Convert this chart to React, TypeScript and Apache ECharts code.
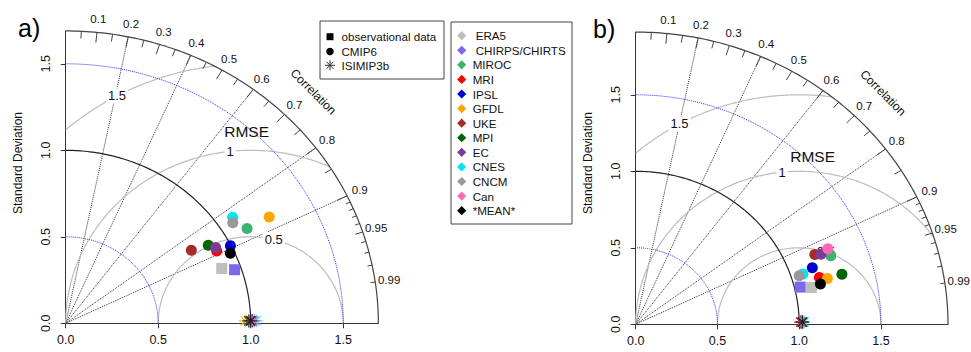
import React, { useEffect, useRef } from "react";
import * as echarts from "echarts";

const FONT = "'Liberation Sans', Arial, sans-serif";

// ---------- data ----------
const models = ["ERA5", "CHIRPS/CHIRTS", "MIROC", "MRI", "IPSL", "GFDL", "UKE", "MPI", "EC", "CNES", "CNCM", "Can", "*MEAN*"];
const modelColors = ["#BEBEBE", "#7B68EE", "#3CB371", "#FF0000", "#0000CD", "#FFA500", "#A52A2A", "#006400", "#7D3B95", "#00E5EE", "#999999", "#FF69B4", "#000000"];
const modelKinds = ["obs", "obs", "cmip", "cmip", "cmip", "cmip", "cmip", "cmip", "cmip", "cmip", "cmip", "cmip", "cmip"];

// panel a) standard deviation (normalised) and correlation
const sdA = [0.901, 0.964, 1.123, 0.917, 0.997, 1.26, 0.8, 0.893, 0.921, 1.091, 1.074, null, 0.978];
const corA = [0.936, 0.947, 0.873, 0.89, 0.893, 0.873, 0.849, 0.863, 0.88, 0.827, 0.841, null, 0.91];
// panel b)
const sdB = [1.101, 1.035, 1.275, 1.164, 1.142, 1.21, 1.187, 1.303, 1.222, 1.074, 1.049, 1.275, 1.16];
const corB = [0.976, 0.972, 0.936, 0.965, 0.946, 0.969, 0.923, 0.968, 0.927, 0.952, 0.953, 0.922, 0.974];

// ISIMIP3b (bias adjusted) – one asterisk per model, close to the reference point
const isiModels = ["MIROC", "MRI", "IPSL", "GFDL", "UKE", "MPI", "EC", "CNES", "CNCM", "Can", "*MEAN*"];
const isiSdA = [1.0, 0.99, 1.01, 0.97, 1.0, 0.99, 1.01, 1.03, 1.0, 1.02, 1.0];
const isiCorA = [0.9999, 0.9999, 0.9999, 0.9999, 0.9999, 0.9999, 0.9999, 0.9999, 0.9999, 0.9999, 0.9999];
const isiSdB = [1.02, 1.01, 1.02, 1.02, 1.01, 1.02, 1.02, 1.03, 1.02, 1.02, 1.02];
const isiCorB = [0.9999, 0.9999, 0.9999, 0.9999, 0.9999, 0.9999, 0.9999, 0.9999, 0.9999, 0.9999, 0.9999];

// axes / reference values
const sdTicks = [0, 0.5, 1, 1.5];
const sdMaxA = 1.69;
const sdMaxB = 1.91;
const refSd = 1;
const sdCircles = [0.5, 1.5];
const rmseLevels = [0.5, 1, 1.5];
const rmseLabels = ["0.5", "1", "1.5"];
const corrLabels = [0.1, 0.2, 0.3, 0.4, 0.5, 0.6, 0.7, 0.8, 0.9, 0.95, 0.99];
const corrLines = [0.2, 0.4, 0.6, 0.8, 0.9];
const bigTicks = [0.1, 0.2, 0.3, 0.4, 0.5, 0.6, 0.7, 0.8, 0.9];
const medTicks = [0.05, 0.15, 0.25, 0.35, 0.45, 0.55, 0.65, 0.75, 0.85, 0.95];
const smallTicks = [0.91, 0.92, 0.93, 0.94, 0.96, 0.97, 0.98, 0.99];
const legendTypes = ["observational data", "CMIP6", "ISIMIP3b"];

// ---------- layout ----------
const panels = [
  { tag: "a)", origin: [65.7, 323.3], scale: [185, 173], max: sdMaxA, sd: sdA, cor: corA, isiSd: isiSdA, isiCor: isiCorA, rmseDeg: [75.6, 96.4, 118.8], rmseTitle: [0.978, 1.108], tagPos: [18, 28], ylab: [18, 163] },
  { tag: "b)", origin: [635.7, 324.3], scale: [163.5, 153], max: sdMaxB, sd: sdB, cor: corB, isiSd: isiSdB, isiCor: isiCorB, rmseDeg: [71, 96, 119.2], rmseTitle: [1.082, 1.1], tagPos: [593, 29], ylab: [588, 163] },
];

const polar = (sd: number, r: number): [number, number] => [sd * r, sd * Math.sqrt(Math.max(0, 1 - r * r))];

const arcPts = (cx: number, cy: number, rad: number, a0: number, a1: number, n = 120) => {
  const out: number[][] = [];
  for (let i = 0; i <= n; i++) {
    const a = a0 + ((a1 - a0) * i) / n;
    out.push([cx + rad * Math.cos(a), cy + rad * Math.sin(a)]);
  }
  return out;
};

const rmseArc = (rho: number, max: number) => {
  const c1 = (max * max - refSd * refSd - rho * rho) / (2 * rho * refSd);
  const t0 = c1 >= 1 ? 0 : Math.acos(Math.max(-1, c1));
  const t1 = rho <= refSd ? Math.PI : Math.acos(-refSd / rho);
  return arcPts(refSd, 0, rho, t0, t1, 160);
};

const STAR = "path://M0,5L10,5M5,0L5,10M1.46,1.46L8.54,8.54M1.46,8.54L8.54,1.46";
const TXT = "#111";

function buildOption() {
  const grid: any[] = [];
  const xAxis: any[] = [];
  const yAxis: any[] = [];
  const series: any[] = [];
  const graphic: any[] = [];

  panels.forEach((p, i) => {
    const [ox, oy] = p.origin;
    const [sx, sy] = p.scale;
    grid.push({ left: ox, top: oy - p.max * sy, width: p.max * sx, height: p.max * sy, containLabel: false, outerBoundsMode: "none" });
    const axisCommon = {
      type: "value",
      gridIndex: i,
      min: 0,
      max: p.max,
      interval: 0.5,
      splitLine: { show: false },
      axisLine: { show: true, onZero: false, lineStyle: { color: "#333", width: 1 } },
      axisTick: { show: true, length: 5, inside: false, customValues: sdTicks, lineStyle: { color: "#333" } },
    };
    xAxis.push({
      ...axisCommon,
      axisLabel: { customValues: sdTicks, formatter: (v: number) => v.toFixed(1), fontSize: 12.5, color: TXT, fontFamily: FONT, margin: 10 },
    });
    yAxis.push({
      ...axisCommon,
      axisLabel: { customValues: sdTicks, formatter: (v: number) => v.toFixed(1), fontSize: 12.5, color: TXT, fontFamily: FONT, margin: 13, rotate: 90 },
    });

    const base = { xAxisIndex: i, yAxisIndex: i, silent: true, animation: false };
    const line = (data: number[][], lineStyle: any, z = 1) => ({
      ...base, type: "line", data, showSymbol: false, symbol: "none", clip: false, lineStyle, z,
    });

    // RMSE circles
    rmseLevels.forEach((rho) => series.push(line(rmseArc(rho, p.max), { color: "#BDBDBD", width: 1.2 })));
    // SD circles
    sdCircles.forEach((s) => series.push(line(arcPts(0, 0, s, 0, Math.PI / 2), { color: "#2B2BFF", width: 1, type: "dotted" })));
    series.push(line(arcPts(0, 0, refSd, 0, Math.PI / 2), { color: "#222", width: 1.2 }, 2));
    series.push(line(arcPts(0, 0, p.max, 0, Math.PI / 2), { color: "#444", width: 1.2 }, 2));

    // radial correlation lines
    series.push({
      ...base, type: "lines", coordinateSystem: "cartesian2d", z: 1,
      data: corrLines.map((c) => ({ coords: [[0, 0], polar(p.max, c)] })),
      lineStyle: { color: "#333", width: 1, type: "dotted", opacity: 1 },
    });
    // ticks on the correlation arc
    const tk = (vals: number[], f: number) => vals.map((c) => ({ coords: [polar(p.max * f, c), polar(p.max, c)] }));
    series.push({
      ...base, type: "lines", coordinateSystem: "cartesian2d", z: 2,
      data: [...tk(bigTicks, 0.965), ...tk(medTicks, 0.975), ...tk(smallTicks, 0.985)],
      lineStyle: { color: "#444", width: 1, opacity: 1 },
    });

    const textPoint = (value: number[], text: string, label: any) => ({
      value,
      label: { show: true, formatter: text, position: "inside", fontFamily: FONT, color: TXT, textBorderWidth: 0, textBorderColor: "transparent", opacity: 1, ...label },
    });
    const textSeries = (data: any[], z = 3) => ({
      ...base, type: "scatter", clip: false, symbolSize: 1, itemStyle: { color: "#fff", opacity: 0 }, data, z,
    });

    // correlation labels
    series.push(textSeries(corrLabels.map((c) => textPoint(polar(p.max * 1.045, c), String(c), { fontSize: 11.5 }))));
    series.push(textSeries([textPoint(polar(p.max * 1.12, Math.cos(Math.PI / 4)), "Correlation", { fontSize: 12, rotate: -45 })]));
    // RMSE labels
    series.push(textSeries(rmseLevels.map((rho, k) => {
      const a = (p.rmseDeg[k] * Math.PI) / 180;
      return textPoint([refSd + rho * Math.cos(a), rho * Math.sin(a)], rmseLabels[k], { fontSize: 13, backgroundColor: "#fff", padding: [1, 2] });
    })));
    series.push(textSeries([textPoint(p.rmseTitle, "RMSE", { fontSize: 15.5 })]));

    // model points
    models.forEach((m, k) => {
      const s = p.sd[k];
      const c = p.cor[k];
      if (s == null || c == null) return;
      series.push({
        ...base, silent: false, type: "scatter", name: m, clip: false, z: 5,
        symbol: modelKinds[k] === "obs" ? "rect" : "circle",
        symbolSize: 11,
        itemStyle: { color: modelColors[k], opacity: 1 },
        data: [polar(s, c)],
      });
    });
    // ISIMIP3b asterisks
    isiModels.forEach((m, k) => {
      const col = modelColors[models.indexOf(m)];
      series.push({
        ...base, type: "scatter", name: m + " ISIMIP3b", clip: false, z: 6,
        symbol: STAR, symbolSize: 13,
        itemStyle: { color: "rgba(0,0,0,0)", borderColor: col, borderWidth: 1.2 },
        data: [polar(p.isiSd[k], p.isiCor[k])],
      });
    });

    graphic.push({ type: "text", x: p.tagPos[0], y: p.tagPos[1], style: { text: p.tag, font: `25px ${FONT}`, fill: "#000", verticalAlign: "middle", align: "left" } });
    graphic.push({ type: "text", x: p.ylab[0], y: p.ylab[1], rotation: Math.PI / 2, style: { text: "Standard Deviation", font: `12px ${FONT}`, fill: TXT, align: "center", verticalAlign: "middle" } });
  });

  // legend box 1
  const b1 = { x: 320, y: 21, w: 124, h: 58, mx: 330, tx: 341.5, rows: [36.7, 51.5, 65.3] };
  graphic.push({ type: "rect", shape: { x: b1.x, y: b1.y, width: b1.w, height: b1.h }, style: { fill: "#fff", stroke: "#444", lineWidth: 1 }, z: 10 });
  legendTypes.forEach((t, k) => {
    const cy = b1.rows[k];
    if (k === 0) graphic.push({ type: "rect", shape: { x: b1.mx - 3.5, y: cy - 3.5, width: 7, height: 7 }, style: { fill: "#000" }, z: 11 });
    if (k === 1) graphic.push({ type: "circle", shape: { cx: b1.mx, cy, r: 3.8 }, style: { fill: "#000" }, z: 11 });
    if (k === 2) {
      const r = 5;
      [0, 45, 90, 135].forEach((d) => {
        const a = (d * Math.PI) / 180;
        graphic.push({ type: "line", shape: { x1: b1.mx - r * Math.cos(a), y1: cy - r * Math.sin(a), x2: b1.mx + r * Math.cos(a), y2: cy + r * Math.sin(a) }, style: { stroke: "#333", lineWidth: 1 }, z: 11 });
      });
    }
    graphic.push({ type: "text", x: b1.tx, y: cy, style: { text: t, font: `11.6px ${FONT}`, fill: TXT, verticalAlign: "middle", align: "left" }, z: 11 });
  });

  // legend box 2
  const b2 = { x: 451, y: 22, w: 121, h: 202, mx: 461.7, tx: 472.7, y0: 35.7, dy: 14.58 };
  graphic.push({ type: "rect", shape: { x: b2.x, y: b2.y, width: b2.w, height: b2.h }, style: { fill: "#fff", stroke: "#444", lineWidth: 1 }, z: 10 });
  models.forEach((m, k) => {
    const cy = b2.y0 + k * b2.dy;
    const d = 4.6;
    graphic.push({ type: "polygon", shape: { points: [[b2.mx, cy - d], [b2.mx + d, cy], [b2.mx, cy + d], [b2.mx - d, cy]] }, style: { fill: modelColors[k] }, z: 11 });
    graphic.push({ type: "text", x: b2.tx + (modelKinds[k] === "obs" ? 3 : 0), y: cy, style: { text: m, font: `11.6px ${FONT}`, fill: TXT, verticalAlign: "middle", align: "left" }, z: 11 });
  });

  return { animation: false, backgroundColor: "#fff", grid, xAxis, yAxis, series, graphic, tooltip: { show: false } };
}

export default function App() {
  const ref = useRef<HTMLDivElement>(null);
  useEffect(() => {
    if (!ref.current) return;
    const chart = echarts.init(ref.current, null, { renderer: "svg" });
    chart.setOption(buildOption() as any);
    return () => chart.dispose();
  }, []);
  return <div ref={ref} style={{ position: "absolute", left: 0, top: 0, width: 971, height: 352 }} />;
}
